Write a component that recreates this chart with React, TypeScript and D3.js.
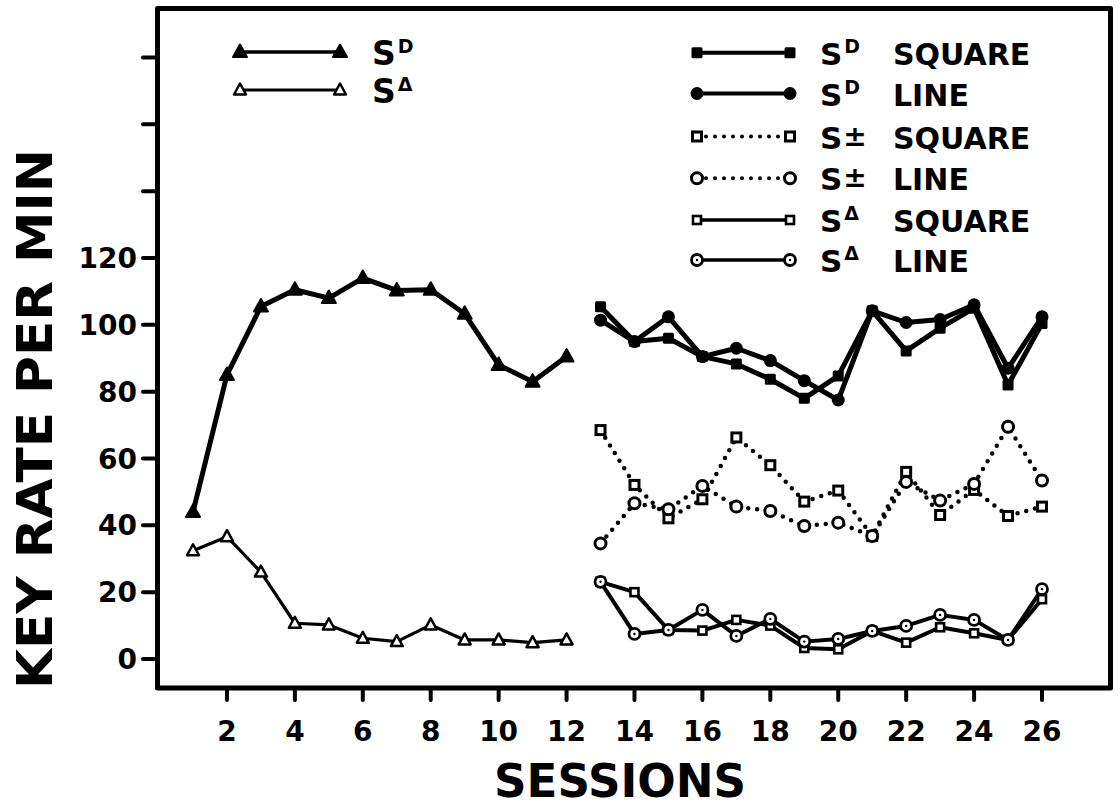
import React from "react";
import * as d3 from "d3";

// ---- data ----
const sessionsA = [1, 2, 3, 4, 5, 6, 7, 8, 9, 10, 11, 12];
const sessionsB = [13, 14, 15, 16, 17, 18, 19, 20, 21, 22, 23, 24, 25, 26];

const sdTriangle = [44, 85, 105.5, 110.5, 108, 114, 110.3, 110.5, 103.3, 88, 83, 90.5];
const sDeltaTriangle = [32.4, 36.6, 26, 10.7, 10.2, 6.2, 5.2, 10.2, 5.7, 5.7, 4.9, 5.7];

const sdSquare = [105.4, 95, 96, 90.5, 88.3, 83.7, 78, 84.7, 104.2, 92.2, 99, 105, 82, 100.4];
const sdLine = [101.4, 95, 102.4, 90.5, 93, 89.3, 83.3, 77.5, 104.2, 100.7, 101.6, 106, 87, 102.4];
const sPmSquare = [68.5, 52.1, 42.1, 47.8, 66.3, 58, 47.1, 50.4, 36.8, 56, 43.1, 50.6, 42.8, 45.6];
const sPmLine = [34.6, 46.6, 44.8, 51.8, 45.6, 44.3, 39.8, 40.8, 36.8, 53, 47.4, 52.4, 69.5, 53.4];
const sDeltaSquare = [23.1, 20, 8.7, 8.5, 11.7, 10, 3.3, 2.9, 8.4, 4.9, 9.5, 7.7, 5.7, 17.9];
const sDeltaLine = [23.1, 7.5, 8.7, 14.7, 6.9, 12, 5.2, 6, 8.4, 9.9, 13.2, 11.7, 5.7, 20.9];

const xTicks = [2, 4, 6, 8, 10, 12, 14, 16, 18, 20, 22, 24, 26];
const yTicksLabeled = [0, 20, 40, 60, 80, 100, 120];
const yTicksAll = [0, 20, 40, 60, 80, 100, 120, 140, 160, 180];

const FONT = "'DejaVu Sans', sans-serif";

type Marker = "triFill" | "triOpen" | "sqFill" | "circFill" | "sqOpen" | "circOpen" | "sqSmall" | "circDot";

function MarkerShape({ kind, x, y }: { kind: Marker; x: number; y: number }) {
  switch (kind) {
    case "triFill":
      return <path d={`M${x},${y - 7.5}L${x + 7},${y + 5}L${x - 7},${y + 5}Z`} fill="#000" stroke="#000" strokeWidth={2} strokeLinejoin="round" />;
    case "triOpen":
      return <path d={`M${x},${y - 6.5}L${x + 6},${y + 4.5}L${x - 6},${y + 4.5}Z`} fill="#fff" stroke="#000" strokeWidth={2.5} strokeLinejoin="round" />;
    case "sqFill":
      return <rect x={x - 5.5} y={y - 5.5} width={11} height={11} rx={1.5} fill="#000" />;
    case "circFill":
      return <circle cx={x} cy={y} r={6.5} fill="#000" />;
    case "sqOpen":
      return <rect x={x - 4.5} y={y - 4.5} width={9} height={9} fill="#fff" stroke="#000" strokeWidth={3} />;
    case "circOpen":
      return <circle cx={x} cy={y} r={5.5} fill="#fff" stroke="#000" strokeWidth={3} />;
    case "sqSmall":
      return <rect x={x - 4} y={y - 4} width={8} height={8} fill="#fff" stroke="#000" strokeWidth={2.6} />;
    case "circDot":
      return (
        <g>
          <circle cx={x} cy={y} r={5.5} fill="#fff" stroke="#000" strokeWidth={2.8} />
          <circle cx={x} cy={y} r={1.2} fill="#000" />
        </g>
      );
  }
}

export default function App() {
  const x = d3.scaleLinear().domain([1, 26]).range([193, 1042]);
  const y = d3.scaleLinear().domain([0, 120]).range([659, 258]);

  const frame = { left: 157.5, top: 8.5, right: 1110.5, bottom: 688 };

  const line = d3
    .line<[number, number]>()
    .x((d) => x(d[0]))
    .y((d) => y(d[1]));

  const series = [
    { s: sessionsA, v: sdTriangle, m: "triFill" as Marker, w: 5, dotted: false },
    { s: sessionsA, v: sDeltaTriangle, m: "triOpen" as Marker, w: 3.2, dotted: false },
    { s: sessionsB, v: sPmSquare, m: "sqOpen" as Marker, w: 4.5, dotted: true },
    { s: sessionsB, v: sPmLine, m: "circOpen" as Marker, w: 4.5, dotted: true },
    { s: sessionsB, v: sDeltaSquare, m: "sqSmall" as Marker, w: 4, dotted: false },
    { s: sessionsB, v: sDeltaLine, m: "circDot" as Marker, w: 4, dotted: false },
    { s: sessionsB, v: sdSquare, m: "sqFill" as Marker, w: 5, dotted: false },
    { s: sessionsB, v: sdLine, m: "circFill" as Marker, w: 5, dotted: false },
  ];

  const rightLegend: { m: Marker; sup: string; word: string; dotted: boolean; w: number }[] = [
    { m: "sqFill", sup: "D", word: "SQUARE", dotted: false, w: 4 },
    { m: "circFill", sup: "D", word: "LINE", dotted: false, w: 4 },
    { m: "sqOpen", sup: "±", word: "SQUARE", dotted: true, w: 4 },
    { m: "circOpen", sup: "±", word: "LINE", dotted: true, w: 4 },
    { m: "sqSmall", sup: "Δ", word: "SQUARE", dotted: false, w: 3.5 },
    { m: "circDot", sup: "Δ", word: "LINE", dotted: false, w: 3.5 },
  ];
  const rightRowsY = [52.7, 93.5, 136.5, 178.3, 220, 260];

  const leftLegend: { m: Marker; sup: string; w: number }[] = [
    { m: "triFill", sup: "D", w: 3.5 },
    { m: "triOpen", sup: "Δ", w: 3 },
  ];
  const leftRowsY = [52, 90];

  const supEl = (sup: string) => {
    if (sup === "±")
      return (
        <tspan fontSize={28} dx={1} dy={-3}>
          ±
        </tspan>
      );
    return (
      <tspan fontSize={19} dx={2} dy={-12}>
        {sup}
      </tspan>
    );
  };

  return (
    <svg
      width={1120}
      height={810}
      viewBox="0 0 1120 810"
      style={{ position: "absolute", left: 0, top: 0, background: "#fff" }}
      fontFamily={FONT}
      fontWeight="bold"
    >
      <rect x={0} y={0} width={1120} height={810} fill="#fff" />

      {/* frame */}
      <rect
        x={frame.left}
        y={frame.top}
        width={frame.right - frame.left}
        height={frame.bottom - frame.top}
        fill="none"
        stroke="#000"
        strokeWidth={5}
        strokeLinejoin="round"
      />

      {/* y ticks */}
      {yTicksAll.map((t) => (
        <line key={"yt" + t} x1={143} x2={frame.left} y1={y(t)} y2={y(t)} stroke="#000" strokeWidth={4} strokeLinecap="round" />
      ))}
      {yTicksLabeled.map((t) => (
        <text key={"yl" + t} x={137} y={y(t) + 10} textAnchor="end" fontSize={28} fill="#000">
          {t}
        </text>
      ))}

      {/* x ticks */}
      {xTicks.map((t) => (
        <line key={"xt" + t} x1={x(t)} x2={x(t)} y1={frame.bottom} y2={700} stroke="#000" strokeWidth={4} strokeLinecap="round" />
      ))}
      {xTicks.map((t) => (
        <text key={"xl" + t} x={x(t)} y={741} textAnchor="middle" fontSize={28} fill="#000">
          {t}
        </text>
      ))}

      {/* axis titles */}
      <text x={620} y={797} textAnchor="middle" fontSize={46} fill="#000" textLength={252} lengthAdjust="spacingAndGlyphs">
        SESSIONS
      </text>
      <text
        transform="translate(52,419) rotate(-90)"
        textAnchor="middle"
        fontSize={50}
        fill="#000"
        textLength={540}
        lengthAdjust="spacingAndGlyphs"
      >
        KEY RATE PER MIN
      </text>

      {/* series lines */}
      {series.map((sr, i) => (
        <path
          key={"l" + i}
          d={line(sr.s.map((s, j) => [s, sr.v[j]] as [number, number])) || ""}
          fill="none"
          stroke="#000"
          strokeWidth={sr.w}
          strokeLinejoin="round"
          strokeLinecap="round"
          strokeDasharray={sr.dotted ? "0 9" : undefined}
        />
      ))}
      {series.map((sr, i) => (
        <g key={"m" + i}>
          {sr.s.map((s, j) => (
            <MarkerShape key={j} kind={sr.m} x={x(s)} y={y(sr.v[j])} />
          ))}
        </g>
      ))}

      {/* left legend */}
      {leftLegend.map((lg, i) => (
        <g key={"ll" + i}>
          <line x1={240} x2={340} y1={leftRowsY[i]} y2={leftRowsY[i]} stroke="#000" strokeWidth={lg.w} />
          <MarkerShape kind={lg.m} x={240} y={leftRowsY[i]} />
          <MarkerShape kind={lg.m} x={340} y={leftRowsY[i]} />
          <text x={372} y={leftRowsY[i] + 13} fontSize={33} fill="#000">
            S{supEl(lg.sup)}
          </text>
        </g>
      ))}

      {/* right legend */}
      {rightLegend.map((lg, i) => {
        const yy = rightRowsY[i];
        return (
          <g key={"rl" + i}>
            <line
              x1={697}
              x2={790}
              y1={yy}
              y2={yy}
              stroke="#000"
              strokeWidth={lg.w}
              strokeLinecap="round"
              strokeDasharray={lg.dotted ? "0 9" : undefined}
            />
            <MarkerShape kind={lg.m} x={697} y={yy} />
            <MarkerShape kind={lg.m} x={790} y={yy} />
            <text x={820} y={yy + 12} fontSize={31} fill="#000">
              S{supEl(lg.sup)}
            </text>
            <text x={893} y={yy + 12} fontSize={30} fill="#000">
              {lg.word}
            </text>
          </g>
        );
      })}
    </svg>
  );
}
